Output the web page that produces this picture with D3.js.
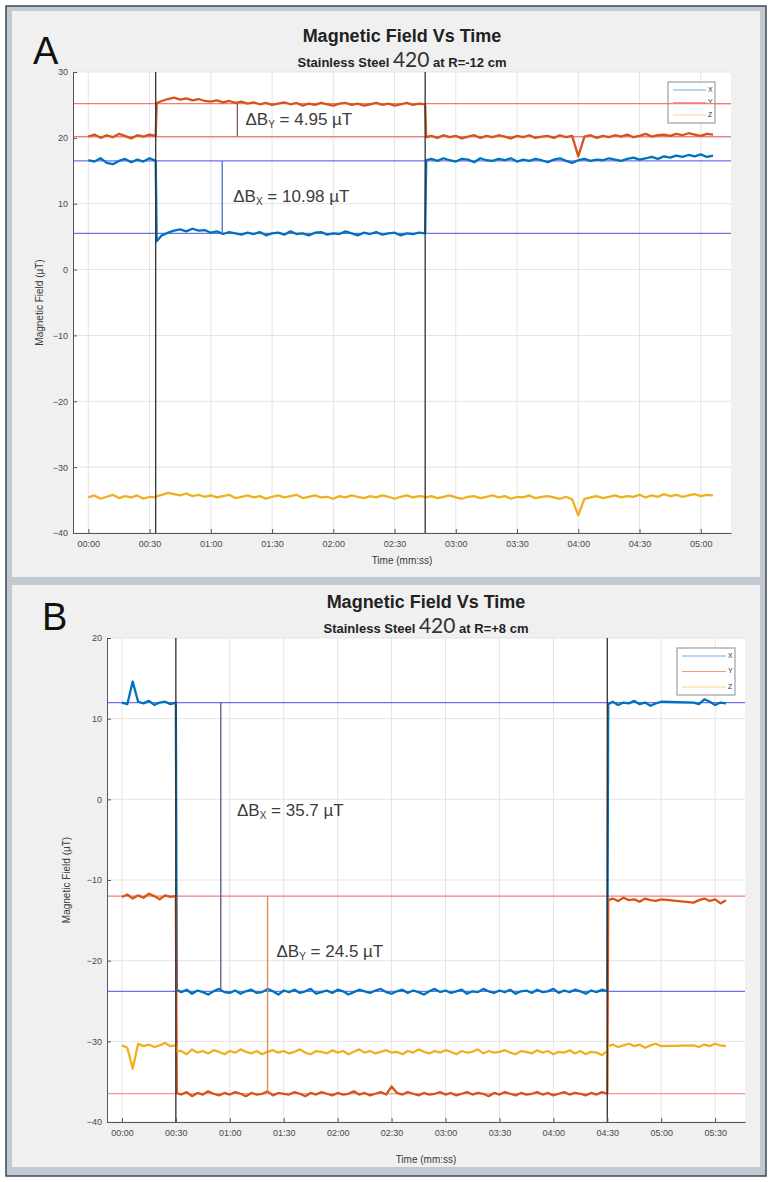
<!DOCTYPE html>
<html>
<head>
<meta charset="utf-8">
<script src="https://cdn.jsdelivr.net/npm/d3@7"></script>
<style>
  body { margin: 0; background: #fff; }
  svg text { font-family: Arial, "Liberation Sans", sans-serif; }
</style>
</head>
<body>
<svg id="chart" width="772" height="1182"></svg>
<script>
"use strict";

// ---- Panel A data (R = -12 cm), time in seconds ----
var timeA = [0,3,6,9,12,15,18,21,24,27,30,33,
  33.5,36,39,42,45,48,51,54,57,60,63,66,69,72,75,78,81,84,87,90,93,96,99,102,105,108,111,114,117,120,123,126,129,132,135,138,141,144,147,150,153,156,159,162,165,
  165.5,168,171,174,177,180,183,186,189,192,195,198,201,204,207,210,213,216,219,222,225,228,231,234,237,240,243,246,249,252,255,258,261,264,267,270,273,276,279,282,285,288,291,294,297,300,303,306];
var bxA = [16.6,16.4,16.9,16.2,16.0,16.5,16.8,16.3,16.7,16.4,16.9,16.5,
  4.3,
  5.2,5.6,5.9,6.1,5.8,6.2,5.9,6.0,5.6,5.8,
  5.4,5.7,5.5,5.3,5.6,5.4,5.7,5.2,5.5,5.6,
  5.3,5.8,5.4,5.5,5.2,5.6,5.7,5.3,5.5,5.4,
  5.8,5.5,5.2,5.6,5.4,5.7,5.3,5.5,5.6,5.2,
  5.5,5.4,5.6,5.5,
  16.6,
  16.8,16.5,16.9,16.6,16.4,16.8,16.7,16.3,16.9,16.6,
  16.5,16.8,16.6,16.9,16.4,16.7,16.5,16.8,16.6,16.3,
  16.7,16.9,16.5,16.2,16.6,16.8,16.5,16.7,16.6,16.9,
  16.7,16.5,16.8,17.0,16.7,16.9,17.1,16.8,17.2,17.0,
  17.3,17.1,17.4,17.2,17.5,17.1,17.3];
var byA = [20.2,20.5,20.0,20.4,20.1,20.6,20.3,19.9,20.4,20.2,20.5,20.3,
  25.3,
  25.6,25.9,26.1,25.8,26.0,25.7,25.9,25.6,25.5,25.7,
  25.4,25.6,25.3,25.5,25.2,25.4,25.1,25.3,25.0,25.2,
  25.4,25.1,25.3,24.9,25.2,25.0,25.3,25.1,24.9,25.2,
  25.3,25.0,25.2,24.9,25.1,25.3,25.0,25.2,24.9,25.1,
  25.3,25.0,25.2,25.1,
  20.1,
  20.3,20.0,20.4,20.1,20.3,19.9,20.2,20.4,20.0,20.3,
  20.1,20.4,20.2,19.9,20.3,20.1,20.4,20.0,20.2,20.3,
  20.0,20.4,20.1,20.3,17.2,20.2,20.4,20.0,20.3,20.1,
  20.4,20.2,20.5,20.1,20.3,20.6,20.2,20.4,20.5,20.3,
  20.6,20.4,20.7,20.5,20.3,20.6,20.5];
var bzA = [-34.6,-34.3,-34.8,-34.5,-34.2,-34.7,-34.4,-34.6,-34.3,-34.8,-34.5,-34.6,
  -34.4,
  -34.2,-33.9,-34.1,-34.3,-34.0,-34.4,-34.2,-34.5,-34.3,-34.6,
  -34.4,-34.2,-34.7,-34.5,-34.3,-34.6,-34.4,-34.8,-34.5,-34.3,
  -34.6,-34.4,-34.2,-34.7,-34.5,-34.3,-34.6,-34.5,-34.8,-34.4,
  -34.6,-34.3,-34.5,-34.7,-34.4,-34.6,-34.3,-34.5,-34.8,-34.5,
  -34.3,-34.6,-34.4,-34.5,
  -34.6,
  -34.4,-34.7,-34.5,-34.3,-34.6,-34.8,-34.5,-34.4,-34.7,-34.5,
  -34.3,-34.6,-34.4,-34.8,-34.5,-34.6,-34.3,-34.7,-34.5,-34.4,
  -34.6,-34.8,-34.5,-34.9,-37.3,-34.8,-34.6,-34.4,-34.7,-34.5,
  -34.3,-34.6,-34.4,-34.5,-34.2,-34.6,-34.3,-34.5,-34.1,-34.4,
  -34.2,-34.5,-34.3,-34.1,-34.4,-34.2,-34.3];
var xTicksA = [0,30,60,90,120,150,180,210,240,270,300];
var yTicksA = [-40,-30,-20,-10,0,10,20,30];
var eventsA = [33, 165];
var refLevelsA = [25.2, 20.2, 16.5, 5.5];
var refSeriesA = ["Y", "Y", "X", "X"];
var deltaNamesA = ["Y", "X"];
var deltaTextA = ["4.95", "10.98"];
var deltaTimesA = [73, 65.6];
var deltaFromA = [20.2, 5.5];
var deltaToA = [25.2, 16.5];

// ---- Panel B data (R = +8 cm) ----
var timeB = [0,3,6,9,12,15,18,21,24,27,30,
  30.5,33,36,39,42,45,48,51,54,57,60,63,66,69,72,75,78,81,84,87,90,93,96,99,102,105,108,111,114,117,120,123,126,129,132,135,138,141,144,147,150,153,156,159,162,165,168,171,174,177,180,183,186,189,192,195,198,201,204,207,210,213,216,219,222,225,228,231,234,237,240,243,246,249,252,255,258,261,264,267,270,
  270.5,273,276,279,282,285,288,291,294,297,300,
  318,321,324,327,330,333,336];
var bxB = [12.0,11.8,14.6,12.1,11.9,12.2,11.7,12.0,12.1,11.8,12.0,
  -23.6,
  -23.9,-23.6,-24.1,-23.7,-23.9,-24.2,-23.8,-23.5,-23.9,-24.0,
  -23.7,-24.1,-23.8,-23.6,-24.0,-23.9,-23.5,-23.8,-24.2,-23.7,
  -23.9,-23.6,-24.0,-23.8,-23.5,-24.1,-23.9,-23.7,-24.0,-23.6,
  -23.8,-24.2,-23.9,-23.6,-23.8,-24.0,-23.7,-23.5,-23.9,-24.1,
  -23.8,-23.6,-24.0,-23.7,-23.9,-24.2,-23.8,-23.5,-23.9,-23.7,
  -24.0,-23.8,-23.6,-24.1,-23.8,-23.9,-23.5,-23.8,-24.0,-23.7,
  -23.9,-23.6,-24.1,-23.8,-23.7,-24.0,-23.6,-23.9,-23.8,-23.5,
  -24.0,-23.7,-23.9,-23.6,-23.8,-24.1,-23.7,-23.9,-23.6,-23.8,
  11.8,
  12.1,11.7,12.0,11.9,12.2,11.8,12.0,11.6,11.9,12.1,
  12.0,11.8,12.4,12.1,11.7,12.0,11.9];
var byB = [-12.1,-11.8,-12.3,-11.9,-12.2,-11.7,-12.0,-12.4,-11.9,-12.1,-12.0,
  -36.4,
  -36.6,-36.3,-36.8,-36.4,-36.6,-36.2,-36.5,-36.7,-36.4,-36.6,
  -36.3,-36.5,-36.8,-36.4,-36.6,-36.5,-36.2,-36.7,-36.4,-36.5,
  -36.6,-36.3,-36.5,-36.8,-36.4,-36.6,-36.3,-36.5,-36.7,-36.4,
  -36.6,-36.5,-36.2,-36.6,-36.4,-36.7,-36.5,-36.3,-36.6,-35.6,
  -36.4,-36.6,-36.3,-36.5,-36.7,-36.4,-36.6,-36.5,-36.3,-36.6,
  -36.4,-36.7,-36.5,-36.3,-36.6,-36.4,-36.5,-36.8,-36.4,-36.6,
  -36.3,-36.5,-36.7,-36.4,-36.6,-36.5,-36.3,-36.6,-36.4,-36.7,
  -36.5,-36.3,-36.6,-36.4,-36.5,-36.7,-36.4,-36.6,-36.3,-36.5,
  -12.5,
  -12.3,-12.6,-12.2,-12.5,-12.4,-12.7,-12.3,-12.5,-12.6,-12.4,
  -12.8,-12.5,-12.3,-12.6,-12.4,-12.9,-12.5];
var bzB = [-30.5,-30.8,-33.4,-30.3,-30.6,-30.4,-30.7,-30.5,-30.2,-30.6,-30.5,
  -31.2,
  -31.2,-31.6,-31.0,-31.4,-31.2,-31.5,-31.1,-31.3,-31.6,-31.2,
  -31.4,-31.0,-31.3,-31.5,-31.2,-31.6,-31.3,-31.1,-31.4,-31.2,
  -31.5,-31.3,-31.0,-31.4,-31.6,-31.2,-31.3,-31.5,-31.1,-31.4,
  -31.2,-31.6,-31.3,-31.0,-31.4,-31.2,-31.5,-31.3,-31.1,-31.4,
  -31.3,-31.6,-31.2,-31.4,-31.0,-31.3,-31.5,-31.2,-31.4,-31.1,
  -31.3,-31.6,-31.2,-31.4,-31.3,-31.0,-31.5,-31.2,-31.4,-31.3,
  -31.1,-31.4,-31.6,-31.2,-31.3,-31.5,-31.1,-31.4,-31.2,-31.6,
  -31.3,-31.4,-31.1,-31.5,-31.2,-31.6,-31.3,-31.4,-31.7,-31.2,
  -30.6,
  -30.4,-30.7,-30.5,-30.3,-30.6,-30.4,-30.8,-30.5,-30.3,-30.6,
  -30.5,-30.7,-30.4,-30.6,-30.3,-30.5,-30.6];
var xTicksB = [0,30,60,90,120,150,180,210,240,270,300,330];
var yTicksB = [-40,-30,-20,-10,0,10,20];
var eventsB = [30, 270];
var refLevelsB = [12, -12, -23.8, -36.5];
var refSeriesB = ["X", "Y", "X", "Y"];
var deltaNamesB = ["X", "Y"];
var deltaTextB = ["35.7", "24.5"];
var deltaTimesB = [55, 81];
var deltaFromB = [-23.8, -36.5];
var deltaToB = [12, -12];

var seriesNames = ["X", "Y", "Z"];
var seriesColors = { X: "#0072BD", Y: "#D95319", Z: "#EDB120" };
var refColors = { X: "#6f72f0", Y: "#f27b7b" };
var deltaColors = { A: ["#8a5a5a", "#4f6fc8"], B: ["#505a88", "#d88a4c"] };

var svg = d3.select("#chart");

// figure frame
svg.append("rect").attr("x", 6).attr("y", 6).attr("width", 760).attr("height", 1170)
  .attr("fill", "#c3c9d3").attr("stroke", "#3e4756").attr("stroke-width", 1.5);
svg.append("rect").attr("x", 12).attr("y", 11).attr("width", 748).attr("height", 566).attr("fill", "#f0f0f0");
svg.append("rect").attr("x", 12).attr("y", 585).attr("width", 748).attr("height", 582).attr("fill", "#f0f0f0");

function mmss(s) {
  var f = d3.format("02d");
  return f(Math.floor(s / 60)) + ":" + f(s % 60);
}

function drawPanel(p) {
  var g = svg.append("g");
  var x = d3.scaleLinear().domain(p.xDomain).range([p.left, p.right]);
  var y = d3.scaleLinear().domain(p.yDomain).range([p.bottom, p.top]);

  g.append("rect").attr("x", p.left).attr("y", p.top)
    .attr("width", p.right - p.left).attr("height", p.bottom - p.top).attr("fill", "#fff");

  // grid
  g.selectAll(".vgrid").data(p.xTicks).enter().append("line")
    .attr("x1", function (d) { return x(d); }).attr("x2", function (d) { return x(d); })
    .attr("y1", p.top).attr("y2", p.bottom).attr("stroke", "#e4e4e4");
  g.selectAll(".hgrid").data(p.yTicks).enter().append("line")
    .attr("y1", function (d) { return y(d); }).attr("y2", function (d) { return y(d); })
    .attr("x1", p.left).attr("x2", p.right).attr("stroke", "#e4e4e4");

  // reference levels
  p.refLevels.forEach(function (v, i) {
    g.append("line").attr("x1", p.left).attr("x2", p.right)
      .attr("y1", y(v)).attr("y2", y(v))
      .attr("stroke", refColors[p.refSeries[i]]).attr("stroke-width", 1.2);
  });

  // data lines
  var line = d3.line().x(function (d) { return x(d[0]); }).y(function (d) { return y(d[1]); });
  seriesNames.forEach(function (name) {
    g.append("path").datum(d3.zip(p.time, p.values[name]))
      .attr("fill", "none").attr("stroke", seriesColors[name])
      .attr("stroke-width", 2.3).attr("stroke-linejoin", "round").attr("d", line);
  });

  // event markers
  p.events.forEach(function (t) {
    g.append("line").attr("x1", x(t)).attr("x2", x(t))
      .attr("y1", p.top).attr("y2", p.bottom)
      .attr("stroke", "#333").attr("stroke-width", 1.3);
  });

  // delta annotations
  p.deltaTimes.forEach(function (t, i) {
    g.append("line").attr("x1", x(t)).attr("x2", x(t))
      .attr("y1", y(p.deltaFrom[i])).attr("y2", y(p.deltaTo[i]))
      .attr("stroke", p.deltaColors[i]).attr("stroke-width", 1.3);
    var txt = g.append("text").attr("x", x(p.labelPos[i][0])).attr("y", y(p.labelPos[i][1]))
      .attr("font-family", "'Open Sans', sans-serif").attr("font-size", 17)
      .attr("fill", "#3c3c3c").attr("dominant-baseline", "middle");
    txt.append("tspan").text("\u0394B");
    txt.append("tspan").attr("font-size", 10).attr("dy", 4).text(p.deltaNames[i]);
    txt.append("tspan").attr("dy", -4).text(" = " + p.deltaText[i] + " \u00b5T");
  });

  // axes
  var xAxis = d3.axisBottom(x).tickValues(p.xTicks).tickFormat(mmss)
    .tickSizeInner(-4).tickSizeOuter(0).tickPadding(8);
  var yAxis = d3.axisLeft(y).tickValues(p.yTicks)
    .tickSizeInner(-4).tickSizeOuter(0).tickPadding(5);
  var gx = g.append("g").attr("transform", "translate(0," + p.bottom + ")").call(xAxis);
  var gy = g.append("g").attr("transform", "translate(" + p.left + ",0)").call(yAxis);
  [gx, gy].forEach(function (ax) {
    ax.select(".domain").attr("stroke", "#555");
    ax.selectAll(".tick line").attr("stroke", "#555");
    ax.selectAll(".tick text").attr("font-size", 9).attr("fill", "#4a4a4a")
      .attr("font-family", "Arial, sans-serif");
  });

  // axis labels
  var cx = (p.left + p.right) / 2;
  g.append("text").attr("x", cx).attr("y", p.bottom + p.timeLabelDy).attr("text-anchor", "middle")
    .attr("font-size", 10).attr("fill", "#3a3a3a").text("Time (mm:ss)");
  g.append("text").attr("transform", "translate(" + p.yLabelX + "," + ((p.top + p.bottom) / 2) + ") rotate(-90)")
    .attr("text-anchor", "middle").attr("dominant-baseline", "middle")
    .attr("font-size", 10).attr("fill", "#3a3a3a").text("Magnetic Field (\u00b5T)");

  // titles
  g.append("text").attr("x", cx).attr("y", p.titleY).attr("text-anchor", "middle")
    .attr("font-size", 18).attr("font-weight", "bold").attr("fill", "#222")
    .text("Magnetic Field Vs Time");
  var sub = g.append("text").attr("x", cx).attr("y", p.titleY + 25).attr("text-anchor", "middle")
    .attr("fill", "#222");
  sub.append("tspan").attr("font-size", 13).attr("font-weight", "bold").text("Stainless Steel ");
  sub.append("tspan").attr("font-size", 21).attr("font-family", "Lato, sans-serif").attr("fill", "#333").text("420");
  sub.append("tspan").attr("font-size", 13).attr("font-weight", "bold").text(" at " + p.radius);

  g.append("text").attr("x", p.letterX).attr("y", p.letterY)
    .attr("font-size", 38).attr("fill", "#111").text(p.letter);

  // legend
  var lg = g.append("g").attr("transform", "translate(" + p.legend[0] + "," + p.legend[1] + ")");
  lg.append("rect").attr("width", p.legend[2]).attr("height", p.legend[3])
    .attr("fill", "#fff").attr("stroke", "#8c8c8c").attr("stroke-width", 1);
  seriesNames.forEach(function (name, i) {
    var ly = 8 + i * (p.legend[3] - 16) / 2;
    lg.append("line").attr("x1", 5).attr("x2", p.legend[2] - 9).attr("y1", ly).attr("y2", ly)
      .attr("stroke", seriesColors[name]).attr("stroke-opacity", 0.55).attr("stroke-width", 1.2);
    lg.append("text").attr("x", p.legend[2] - 7).attr("y", ly).attr("dominant-baseline", "middle")
      .attr("font-size", 7).attr("fill", "#333").text(name);
  });

  // reference line over the legend box (as in the source figure)
  if (p.refOverLegend !== undefined) {
    var v = p.refLevels[p.refOverLegend];
    g.append("line").attr("x1", p.legend[0]).attr("x2", p.right)
      .attr("y1", y(v)).attr("y2", y(v))
      .attr("stroke", refColors[p.refSeries[p.refOverLegend]]).attr("stroke-width", 1.2);
  }
}

drawPanel({
  letter: "A", letterX: 33, letterY: 64, titleY: 42, radius: "R=-12 cm",
  left: 73, right: 731, top: 72, bottom: 533, yLabelX: 40, timeLabelDy: 31,
  xDomain: [-7.5, 314.8], yDomain: [-40, 30],
  xTicks: xTicksA, yTicks: yTicksA,
  time: timeA, values: { X: bxA, Y: byA, Z: bzA },
  events: eventsA, refLevels: refLevelsA, refSeries: refSeriesA,
  deltaTimes: deltaTimesA, deltaFrom: deltaFromA, deltaTo: deltaToA,
  deltaNames: deltaNamesA, deltaText: deltaTextA, deltaColors: deltaColors.A,
  labelPos: [[77, 22.5], [71, 10.8]],
  legend: [668, 82, 47, 41], refOverLegend: 0
});

drawPanel({
  letter: "B", letterX: 42, letterY: 630, titleY: 608, radius: "R=+8 cm",
  left: 107, right: 745, top: 638, bottom: 1122, yLabelX: 67, timeLabelDy: 41,
  xDomain: [-8.3, 346.6], yDomain: [-40, 20],
  xTicks: xTicksB, yTicks: yTicksB,
  time: timeB, values: { X: bxB, Y: byB, Z: bzB },
  events: eventsB, refLevels: refLevelsB, refSeries: refSeriesB,
  deltaTimes: deltaTimesB, deltaFrom: deltaFromB, deltaTo: deltaToB,
  deltaNames: deltaNamesB, deltaText: deltaTextB, deltaColors: deltaColors.B,
  labelPos: [[64, -1.6], [86, -19.0]],
  legend: [677, 648, 58, 47]
});
</script>
</body>
</html>
